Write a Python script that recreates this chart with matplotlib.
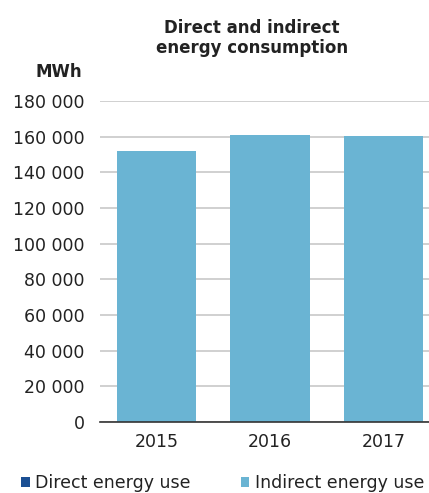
import matplotlib
matplotlib.use("Agg")
import matplotlib.pyplot as plt
import numpy as np

years = ["2015", "2016", "2017"]
direct_mwh = [0, 0, 0]
indirect_mwh = [152000, 161000, 160500]
yticks = [0, 20000, 40000, 60000, 80000, 100000, 120000, 140000, 160000, 180000]

DIRECT_COLOR = "#1b4f93"
INDIRECT_COLOR = "#6ab4d3"
TEXT_COLOR = "#222222"

plt.rcParams["font.family"] = ["DejaVu Sans"]

fig = plt.figure(figsize=(4.29, 4.93), dpi=100)
ax = fig.add_axes([100 / 429, 1 - 422 / 493, 1 - 100 / 429, (422 - 101) / 493])

x = np.arange(len(years))
w = 0.70
ax.bar(x, direct_mwh, w, color=DIRECT_COLOR, label="Direct energy use", zorder=3)
ax.bar(x, indirect_mwh, w, bottom=direct_mwh, color=INDIRECT_COLOR,
       label="Indirect energy use", zorder=3)

ax.set_xlim(-0.5, 2.5 - 11 / 113.5)
ax.set_ylim(0, 180000)
ax.set_yticks(yticks)
ax.set_yticklabels([f"{v:,}".replace(",", " ") for v in yticks])
ax.set_xticks(x)
ax.set_xticklabels(years)
ax.tick_params(axis="both", length=0, labelsize=12.5, colors=TEXT_COLOR)
ax.tick_params(axis="y", pad=11)
ax.tick_params(axis="x", pad=8)
ax.grid(axis="y", color="#d0d0d0", linewidth=1.4, zorder=0)
for side in ["top", "right", "left"]:
    ax.spines[side].set_visible(False)
ax.spines["bottom"].set_color("#333333")
ax.spines["bottom"].set_linewidth(1.2)
ax.spines["bottom"].set_zorder(4)

fig.text(252 / 429, 1 - 38 / 493, "Direct and indirect\nenergy consumption",
         ha="center", va="center", fontsize=12, fontweight="semibold",
         color=TEXT_COLOR, linespacing=1.1)
fig.text(82 / 429, 1 - 72 / 493, "MWh", ha="right", va="center",
         fontsize=12, fontweight="semibold", color=TEXT_COLOR)

handles, labels = ax.get_legend_handles_labels()
fig.legend(handles, labels, loc="center left", bbox_to_anchor=(21 / 429, 1 - 483 / 493),
           ncol=2, frameon=False, fontsize=12.5, handlelength=0.5,
           handleheight=0.5, handletextpad=0.3, columnspacing=2.9,
           borderpad=0, borderaxespad=0, labelcolor=TEXT_COLOR)

fig.savefig("out.png", dpi=100)
